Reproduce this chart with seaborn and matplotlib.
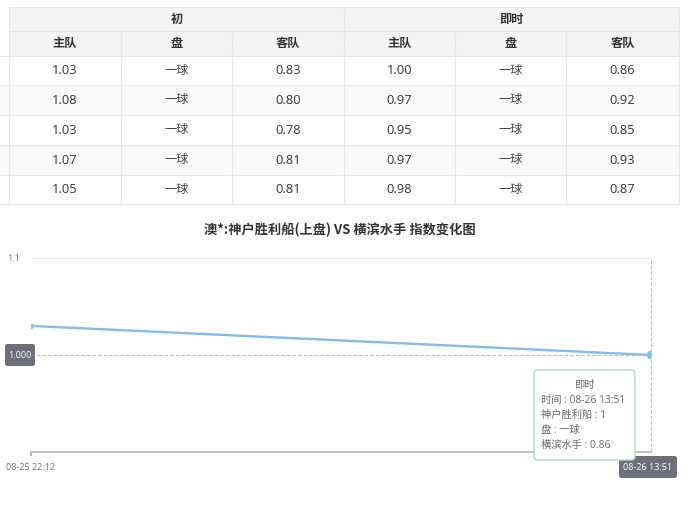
import matplotlib
matplotlib.use("Agg")
import matplotlib.pyplot as plt
from matplotlib.patches import Rectangle, FancyBboxPatch
import seaborn as sns
import pandas as pd

# ---------------- data ----------------
groups = ["初", "即时"]
sub_headers = ["主队", "盘", "客队"]
init_home = ["1.03", "1.08", "1.03", "1.07", "1.05"]
init_line = ["一球", "一球", "一球", "一球", "一球"]
init_away = ["0.83", "0.80", "0.78", "0.81", "0.81"]
live_home = ["1.00", "0.97", "0.95", "0.97", "0.98"]
live_line = ["一球", "一球", "一球", "一球", "一球"]
live_away = ["0.86", "0.92", "0.85", "0.93", "0.87"]

chart_title = "澳*:神户胜利船(上盘) VS 横滨水手 指数变化图"
times = ["2023-08-25 22:12", "2023-08-26 13:51"]
home_series = [1.03, 1.00]
handicap_now = "一球"
away_now = 0.86
home_name = "神户胜利船"
away_name = "横滨水手"
tooltip_title = "即时"
y_min, y_max = 0.9, 1.1

# ---------------- style ----------------
sns.set_theme(style="white")
plt.rcParams["font.family"] = ["Open Sans", "Noto Sans CJK SC", "DejaVu Sans"]
CJK = ["Noto Sans CJK SC", "DejaVu Sans"]

W, H = 697, 507
fig = plt.figure(figsize=(W / 100, H / 100), dpi=100)
fig.patch.set_facecolor("white")

# overlay (pixel coordinates) for the table
ov = fig.add_axes([0, 0, 1, 1], zorder=0)
ov.set_xlim(0, W)
ov.set_ylim(H, 0)
ov.axis("off")

col_x = [9, 121, 232, 344, 455, 566, 679]
row_y = [7, 31, 56, 85, 115, 145, 175, 204]
line_c = "#e6e6e6"
txt_c = "#333333"

# header backgrounds
ov.add_patch(Rectangle((col_x[0], row_y[0]), col_x[-1] - col_x[0], row_y[2] - row_y[0],
                       facecolor="#f4f4f4", edgecolor="none"))
columns = [init_home, init_line, init_away, live_home, live_line, live_away]
n_rows = len(init_home)
for r in range(n_rows):
    y0, y1 = row_y[2 + r], row_y[3 + r]
    if r % 2 == 1:
        ov.add_patch(Rectangle((0, y0), col_x[-1], y1 - y0, facecolor="#fafafa", edgecolor="none"))
# horizontal lines
for i, y in enumerate(row_y):
    x_start = 0 if i >= 2 else col_x[0]
    ov.plot([x_start, col_x[-1]], [y, y], color=line_c, lw=0.8)
# vertical lines
for j, x in enumerate(col_x):
    top = row_y[0] if j in (0, 3, 6) else row_y[1]
    ov.plot([x, x], [top, row_y[-1]], color=line_c, lw=0.8)

# group headers
for g, name in enumerate(groups):
    cx = (col_x[3 * g] + col_x[3 * g + 3]) / 2
    ov.text(cx, (row_y[0] + row_y[1]) / 2, name, ha="center", va="center",
            fontsize=8.8, fontweight="bold", color=txt_c, family=CJK)
    for k, sh in enumerate(sub_headers):
        c = 3 * g + k
        ov.text((col_x[c] + col_x[c + 1]) / 2, (row_y[1] + row_y[2]) / 2, sh,
                ha="center", va="center", fontsize=8.8, fontweight="bold", color=txt_c, family=CJK)
for c, col in enumerate(columns):
    cx = (col_x[c] + col_x[c + 1]) / 2
    for r, v in enumerate(col):
        is_num = v[0].isdigit()
        ov.text(cx, (row_y[2 + r] + row_y[3 + r]) / 2, v, ha="center", va="center",
                fontsize=9.3 if is_num else 8.8, color=txt_c if is_num else "#444444",
                family=None if is_num else CJK)

# chart title
ov.text(340, 230, chart_title, ha="center", va="center", fontsize=9.5,
        fontweight="bold", color="#333333", family=CJK)

# ---------------- chart ----------------
px0, px1, py_top, py_bot = 31, 651, 258, 452
ax = fig.add_axes([px0 / W, 1 - py_bot / H, (px1 - px0) / W, (py_bot - py_top) / H], zorder=1)
ax.set_facecolor("none")

df = pd.DataFrame({"time": pd.to_datetime(times), "home": home_series})
line_color = "#84bcec"
sns.lineplot(data=df, x="time", y="home", ax=ax, color=line_color, linewidth=1.7,
             marker="o", markersize=3.5, markeredgewidth=0)
ax.scatter(df["time"].iloc[-1:], df["home"].iloc[-1:], s=40, color=line_color,
           edgecolor="none", zorder=5)

ax.set_xlim(df["time"].iloc[0], df["time"].iloc[-1])
ax.set_ylim(y_min, y_max)
ax.set_xlabel("")
ax.set_ylabel("")
ax.set_yticks([y_max])
ax.set_yticklabels([f"{y_max:g}"])
ax.set_xticks([df["time"].iloc[0]])
ax.set_xticklabels([df["time"].iloc[0].strftime("%m-%d %H:%M")])
ax.tick_params(axis="y", length=0, labelsize=6.5, labelcolor="#6e7079", pad=8)
ax.tick_params(axis="x", length=3, color="#aaaaaa", labelsize=6.5, labelcolor="#6e7079",
               pad=5, direction="out", bottom=True)
ax.grid(axis="y", color="#e6e8ee", linewidth=0.8)
ax.grid(axis="x", visible=False)
for s in ["top", "right", "left"]:
    ax.spines[s].set_visible(False)
ax.spines["bottom"].set_color("#b4b4b4")
ax.spines["bottom"].set_linewidth(1.2)

# crosshair
ax.axhline(home_series[-1], color="#bbbbbb", linestyle=(0, (3, 2)), linewidth=0.8, zorder=2)
ax.axvline(df["time"].iloc[-1], color="#bbbbbb", linestyle=(0, (3, 2)), linewidth=0.8,
           zorder=2, clip_on=False)

# ---------------- overlays (labels/tooltip) ----------------
ov2 = fig.add_axes([0, 0, 1, 1], zorder=3)
ov2.set_xlim(0, W)
ov2.set_ylim(H, 0)
ov2.axis("off")
ov2.set_facecolor("none")

box_c = "#6e7079"
# y-value label box
ov2.add_patch(FancyBboxPatch((5, 344), 30, 22, boxstyle="round,pad=0,rounding_size=2.5",
                             facecolor=box_c, edgecolor="none"))
ov2.text(20, 355.5, f"{home_series[-1]:.3f}", ha="center", va="center", fontsize=6.5, color="white")
# x-value label box
ov2.add_patch(FancyBboxPatch((619, 456), 58, 22, boxstyle="round,pad=0,rounding_size=2.5",
                             facecolor=box_c, edgecolor="none"))
ov2.text(648, 467, df["time"].iloc[-1].strftime("%m-%d %H:%M"), ha="center", va="center",
         fontsize=6.5, color="white")

# tooltip
ov2.add_patch(FancyBboxPatch((534, 370), 101, 90, boxstyle="round,pad=0,rounding_size=4",
                             facecolor="white", edgecolor="#a8dcc0", linewidth=1.0))
tip_c = "#666666"
ov2.text(584.5, 385, tooltip_title, ha="center", va="center", fontsize=7.4, color=tip_c, family=CJK)
tip_lines = [
    f"时间 : {df['time'].iloc[-1].strftime('%m-%d %H:%M')}",
    f"{home_name} : {home_series[-1]:g}",
    f"盘 : {handicap_now}",
    f"{away_name} : {away_now:g}",
]
for i, t in enumerate(tip_lines):
    ov2.text(541, 400 + 15.3 * i, t, ha="left", va="center", fontsize=7.4, color=tip_c)

fig.savefig("out.png", dpi=100, facecolor="white")
